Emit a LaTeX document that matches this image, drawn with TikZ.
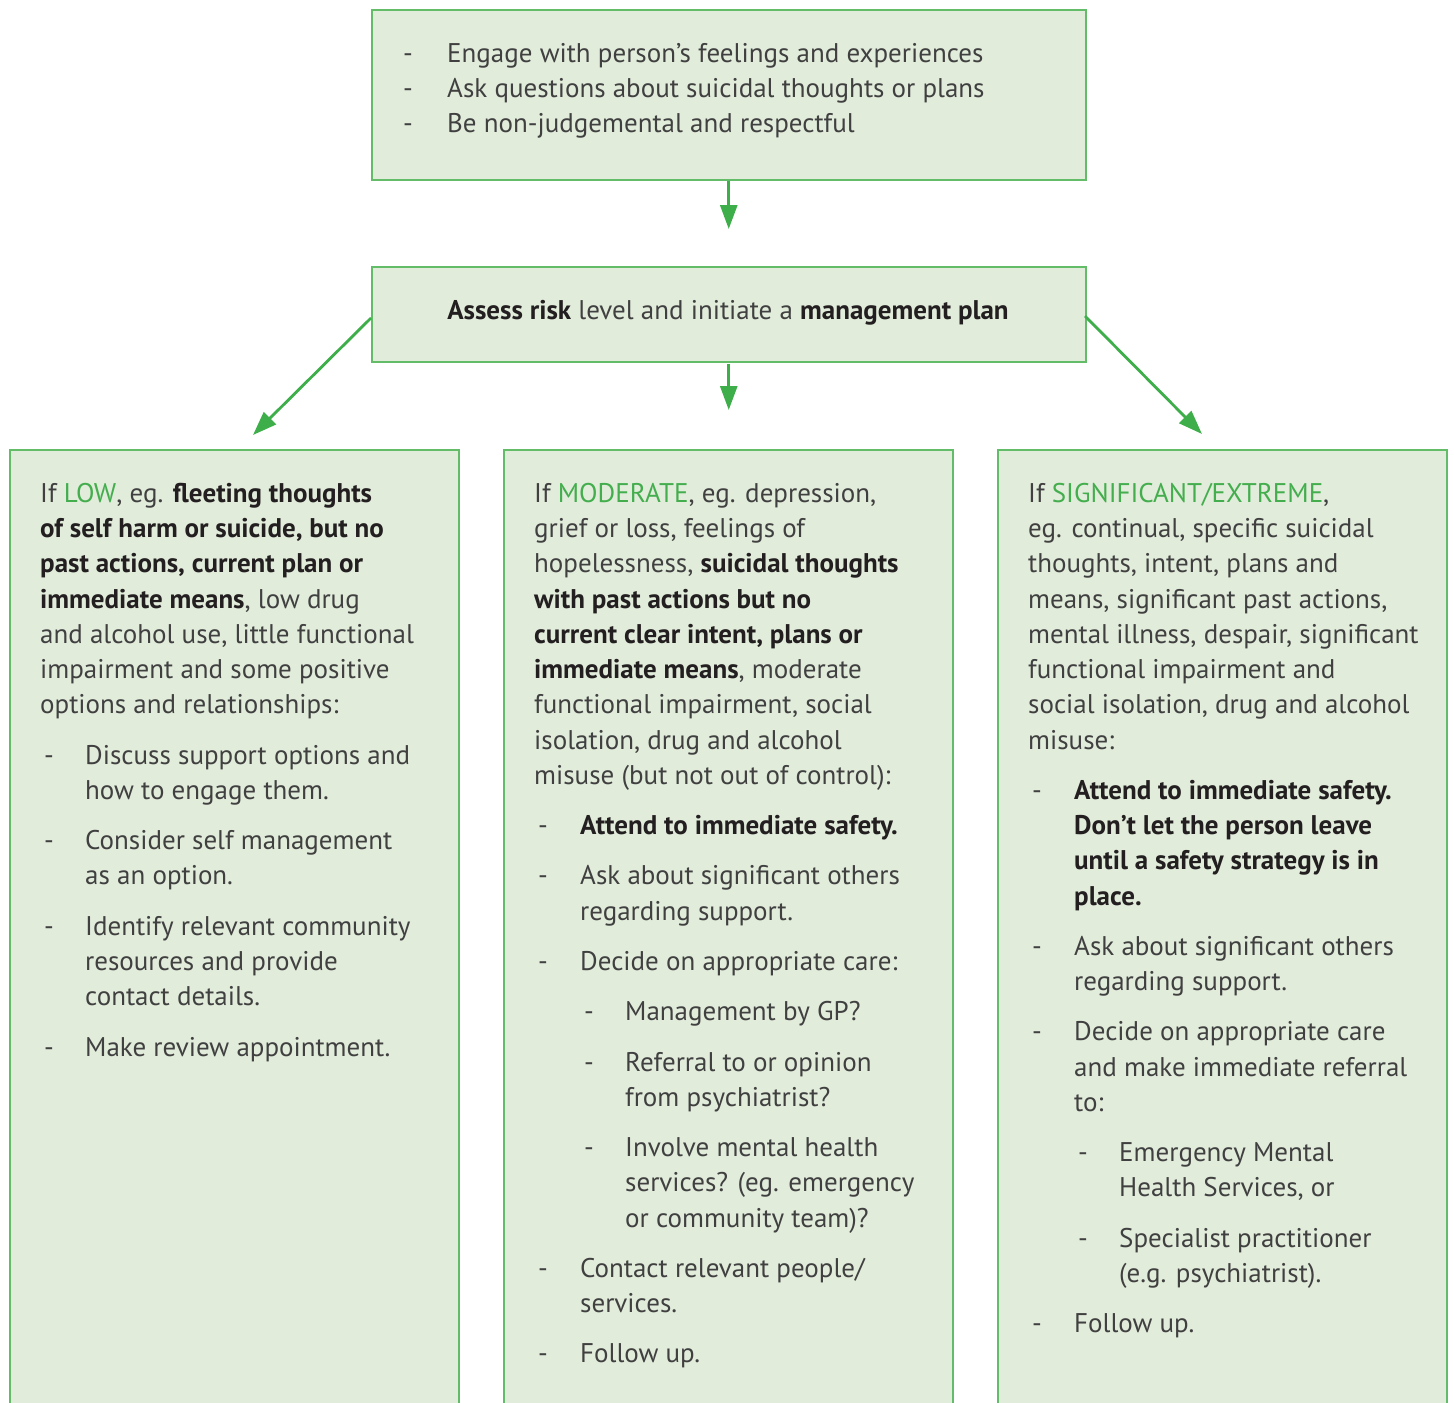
\documentclass[tikz,border=0pt]{standalone}
\usepackage{fontspec}
\setmainfont{PT Sans}
\usetikzlibrary{arrows.meta}
\definecolor{boxfill}{HTML}{E1ECDB}
\definecolor{boxline}{HTML}{62BC68}
\definecolor{arrowgreen}{HTML}{3DAE49}
\definecolor{labelgreen}{HTML}{44AE4E}
\definecolor{txtgray}{HTML}{404040}
\definecolor{boldcol}{HTML}{231F20}
\newcommand\G[1]{{\color{labelgreen}#1}}
\newcommand\B[1]{{\color{boldcol}\bfseries #1}}
\newcounter{lnc}
\newcommand\tl[3]{\stepcounter{lnc}\edef\lname{l\arabic{lnc}}\node[txt] (\lname) at (#1,#2) {#3};}
\begin{document}
\begin{tikzpicture}[x=1pt,y=-1pt,
  box/.style={draw=boxline, fill=boxfill, line width=1.5pt, inner sep=0pt},
  txt/.style={anchor=mid west, inner sep=0pt, yshift=-8pt, text=txtgray, font=\fontsize{27}{34}\selectfont},
  conn/.style={draw=arrowgreen, line width=2.8pt, -{Triangle[length=24pt,width=17pt]}}]
\useasboundingbox (0,0) rectangle (1454,1403);
\clip (0,0) rectangle (1454,1403);
% boxes
\node[box, minimum width=714pt, minimum height=170pt, anchor=north west] (top) at (371,9) {};
\node[box, minimum width=714pt, minimum height=95pt, anchor=north west] (assess) at (371,266) {};
\node[box, minimum width=449pt, minimum height=1000pt, anchor=north west] (low) at (9,449) {};
\node[box, minimum width=449pt, minimum height=1000pt, anchor=north west] (mod) at (503,449) {};
\node[box, minimum width=449pt, minimum height=1000pt, anchor=north west] (sig) at (997,449) {};
% connectors
\coordinate (lowtip) at (253,435);
\coordinate (sigtip) at (1202,434);
\coordinate (lowstart) at (371,318);
\coordinate (sigstart) at (1085,316);
\draw[conn, shorten >=37pt] (top.south) -- (top.south |- assess.north);
\draw[conn, shorten <=1pt, shorten >=39pt] (assess.south) -- (assess.south |- mod.north);
\draw[conn] (lowstart) -- (lowtip);
\draw[conn] (sigstart) -- (sigtip);
% top box text
\tl{403}{52}{-}\tl{447}{52}{Engage with person’s feelings and experiences}
\tl{403}{87}{-}\tl{447}{87}{Ask questions about suicidal thoughts or plans}
\tl{403}{122}{-}\tl{447}{122}{Be non-judgemental and respectful}
% assess text
\node[txt, anchor=mid] (assesstext) at (728,309) {\B{Assess risk} level and initiate a \B{management plan}};
% LOW
\tl{40}{492}{If \G{LOW}, eg. \B{fleeting thoughts}}
\tl{40}{527}{\B{of self harm or suicide, but no}}
\tl{40}{562}{\B{past actions, current plan or}}
\tl{40}{598}{\B{immediate means}, low drug}
\tl{40}{633}{and alcohol use, little functional}
\tl{40}{668}{impairment and some positive}
\tl{40}{703}{options and relationships:}
\tl{44}{754}{-}\tl{85}{754}{Discuss support options and}
\tl{85}{789}{how to engage them.}
\tl{44}{839}{-}\tl{85}{839}{Consider self management}
\tl{85}{874}{as an option.}
\tl{44}{925}{-}\tl{85}{925}{Identify relevant community}
\tl{85}{960}{resources and provide}
\tl{85}{995}{contact details.}
\tl{44}{1046}{-}\tl{85}{1046}{Make review appointment.}
% MODERATE
\tl{534}{492}{If \G{MODERATE}, eg. depression,}
\tl{534}{527}{grief or loss, feelings of}
\tl{534}{562}{hopelessness, \B{suicidal thoughts}}
\tl{534}{598}{\B{with past actions but no}}
\tl{534}{633}{\B{current clear intent, plans or}}
\tl{534}{668}{\B{immediate means}, moderate}
\tl{534}{703}{functional impairment, social}
\tl{534}{739}{isolation, drug and alcohol}
\tl{534}{774}{misuse (but not out of control):}
\tl{538}{824}{-}\tl{580}{824}{\B{Attend to immediate safety.}}
\tl{538}{874}{-}\tl{580}{874}{Ask about significant others}
\tl{580}{910}{regarding support.}
\tl{538}{960}{-}\tl{580}{960}{Decide on appropriate care:}
\tl{584}{1010}{-}\tl{625}{1010}{Management by GP?}
\tl{584}{1061}{-}\tl{625}{1061}{Referral to or opinion}
\tl{625}{1096}{from psychiatrist?}
\tl{584}{1146}{-}\tl{625}{1146}{Involve mental health}
\tl{625}{1181}{services? (eg. emergency}
\tl{625}{1217}{or community team)?}
\tl{538}{1267}{-}\tl{580}{1267}{Contact relevant people/}
\tl{580}{1302}{services.}
\tl{538}{1352}{-}\tl{580}{1352}{Follow up.}
% SIGNIFICANT
\tl{1028}{492}{If \G{SIGNIFICANT/EXTREME},}
\tl{1028}{527}{eg. continual, specific suicidal}
\tl{1028}{562}{thoughts, intent, plans and}
\tl{1028}{598}{means, significant past actions,}
\tl{1028}{633}{mental illness, despair, significant}
\tl{1028}{668}{functional impairment and}
\tl{1028}{703}{social isolation, drug and alcohol}
\tl{1028}{739}{misuse:}
\tl{1032}{789}{-}\tl{1074}{789}{\B{Attend to immediate safety.}}
\tl{1074}{824}{\B{Don’t let the person leave}}
\tl{1074}{859}{\B{until a safety strategy is in}}
\tl{1074}{895}{\B{place.}}
\tl{1032}{945}{-}\tl{1074}{945}{Ask about significant others}
\tl{1074}{980}{regarding support.}
\tl{1032}{1030}{-}\tl{1074}{1030}{Decide on appropriate care}
\tl{1074}{1066}{and make immediate referral}
\tl{1074}{1101}{to:}
\tl{1078}{1151}{-}\tl{1119}{1151}{Emergency Mental}
\tl{1119}{1186}{Health Services, or}
\tl{1078}{1237}{-}\tl{1119}{1237}{Specialist practitioner}
\tl{1119}{1272}{(e.g. psychiatrist).}
\tl{1032}{1322}{-}\tl{1074}{1322}{Follow up.}
\end{tikzpicture}
\end{document}
